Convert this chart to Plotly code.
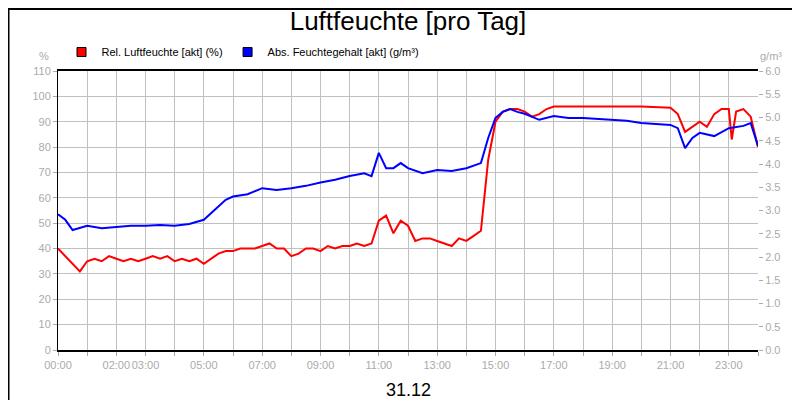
import plotly.graph_objects as go

# hours of day for relative humidity samples
rel_hours = [0, 0.25, 0.5, 0.75, 1, 1.25, 1.5, 1.75, 2, 2.25, 2.5, 2.75, 3, 3.25, 3.5, 3.75,
             4, 4.25, 4.5, 4.75, 5, 5.25, 5.5, 5.75, 6, 6.25, 6.5, 6.75, 7, 7.25, 7.5, 7.75,
             8, 8.25, 8.5, 8.75, 9, 9.25, 9.5, 9.75, 10, 10.25, 10.5, 10.75, 11, 11.25, 11.5,
             11.75, 12, 12.25, 12.5, 12.75, 13, 13.25, 13.5, 13.75, 14, 14.25, 14.5, 14.75,
             15, 15.25, 15.5, 15.75, 16, 16.25, 16.5, 16.75, 17, 18, 19, 20, 21, 21.25, 21.5,
             21.75, 22, 22.25, 22.5, 22.75, 23, 23.1, 23.25, 23.5, 23.75, 24]
rel_values = [40, 37, 34, 31, 35, 36, 35, 37, 36, 35, 36, 35, 36, 37, 36, 37,
              35, 36, 35, 36, 34, 36, 38, 39, 39, 40, 40, 40, 41, 42, 40, 40,
              37, 38, 40, 40, 39, 41, 40, 41, 41, 42, 41, 42, 51, 53, 46,
              51, 49, 43, 44, 44, 43, 42, 41, 44, 43, 45, 47, 75,
              90, 94, 95, 95, 94, 92, 93, 95, 96, 96, 96, 96, 95.5, 93, 86,
              88, 90, 88, 93, 95, 95, 83, 94, 95, 92, 80]

abs_hours = [0, 0.25, 0.5, 0.75, 1, 1.5, 2, 2.5, 3, 3.5, 4, 4.5, 5, 5.25, 5.5, 5.75, 6, 6.5,
             7, 7.5, 8, 8.5, 9, 9.5, 10, 10.5, 10.75, 11, 11.25, 11.5, 11.75, 12, 12.5, 13,
             13.5, 14, 14.5, 14.75, 15, 15.25, 15.5, 15.75, 16, 16.5, 17, 17.5, 18, 18.5, 19,
             19.5, 20, 20.5, 21, 21.25, 21.5, 21.75, 22, 22.5, 23, 23.5, 23.75, 24]
abs_values = [2.92, 2.8, 2.58, 2.62, 2.67, 2.62, 2.64, 2.67, 2.67, 2.69, 2.67, 2.71, 2.8,
              2.95, 3.1, 3.23, 3.3, 3.35, 3.48, 3.44, 3.48, 3.53, 3.6, 3.66, 3.74, 3.8, 3.74,
              4.24, 3.91, 3.91, 4.02, 3.91, 3.8, 3.87, 3.85, 3.91, 4.02, 4.56, 4.99, 5.12,
              5.18, 5.12, 5.08, 4.95, 5.03, 4.99, 4.99, 4.97, 4.95, 4.93, 4.88, 4.86, 4.84,
              4.77, 4.34, 4.56, 4.67, 4.6, 4.77, 4.82, 4.88, 4.39]

tick_hours = list(range(25))
tick_labels = ["00:00", "", "02:00", "03:00", "", "05:00", "", "07:00", "", "09:00", "",
               "11:00", "", "13:00", "", "15:00", "", "17:00", "", "19:00", "", "21:00", "",
               "23:00", ""]

RED = "#ff0000"
BLUE = "#0000ff"
GREY = "#aaaaaa"

fig = go.Figure()
fig.add_trace(go.Scatter(x=rel_hours, y=rel_values, mode="lines", line=dict(color=RED, width=2),
                         showlegend=False))
fig.add_trace(go.Scatter(x=abs_hours, y=abs_values, mode="lines", line=dict(color=BLUE, width=2),
                         yaxis="y2", showlegend=False))
# legend entries with square swatches
fig.add_trace(go.Scatter(x=[None], y=[None], mode="markers", name="Rel. Luftfeuchte [akt] (%)",
                         marker=dict(symbol="square", size=9, color=RED, line=dict(color="black", width=1))))
fig.add_trace(go.Scatter(x=[None], y=[None], mode="markers", name="Abs. Feuchtegehalt [akt] (g/m³)",
                         marker=dict(symbol="square", size=9, color=BLUE, line=dict(color="black", width=1))))

axis_font = dict(family="Liberation Sans, Arial", size=11, color=GREY)
fig.update_layout(
    width=800, height=400,
    margin=dict(l=50, r=50, t=63, b=58, autoexpand=False),
    paper_bgcolor="white", plot_bgcolor="white",
    font=dict(family="Liberation Sans, Arial", color="black"),
    title=dict(text="Luftfeuchte [pro Tag]", x=0.5, xanchor="center", y=0.99, yanchor="top",
               font=dict(size=26, color="black")),
    legend=dict(orientation="h", x=0.005, y=1.068, xanchor="left", yanchor="middle",
                font=dict(size=11), bgcolor="rgba(0,0,0,0)", tracegroupgap=0),
    xaxis=dict(range=[0, 24], tickvals=tick_hours, ticktext=tick_labels, tickangle=0,
               showgrid=True, gridcolor="#c0c0c0", ticks="outside", ticklen=4, tickcolor=GREY,
               tickfont=axis_font, showline=True, linecolor="black", linewidth=2,
               mirror=True, zeroline=False, automargin=False),
    yaxis=dict(range=[0, 110], dtick=10, showgrid=True, gridcolor="#c0c0c0", ticks="outside",
               ticklen=4, tickcolor=GREY, tickfont=axis_font, showline=True, linecolor="black",
               linewidth=1, zeroline=False, automargin=False),
    yaxis2=dict(range=[0, 6], dtick=0.5, tickformat=".1f", overlaying="y", side="right",
                showgrid=False, ticks="outside", ticklen=4, tickcolor=GREY, tickfont=axis_font,
                zeroline=False, automargin=False),
    shapes=[dict(type="rect", xref="paper", yref="paper", x0=-0.0707, x1=1.0707,
                 y0=-0.2061, y1=1.2222, line=dict(color="black", width=2))],
    annotations=[
        dict(text="%", xref="paper", yref="paper", x=-0.01, y=1.054, showarrow=False,
             xanchor="right", yanchor="middle", font=dict(size=11, color=GREY)),
        dict(text="g/m³", xref="paper", yref="paper", x=1.0, y=1.054, showarrow=False,
             xanchor="left", yanchor="middle", font=dict(size=11, color=GREY)),
        dict(text="31.12", xref="paper", yref="paper", x=0.5, y=-0.1, showarrow=False,
             xanchor="center", yanchor="top", font=dict(size=18, color="black")),
    ],
)

fig.write_html("out.html")
